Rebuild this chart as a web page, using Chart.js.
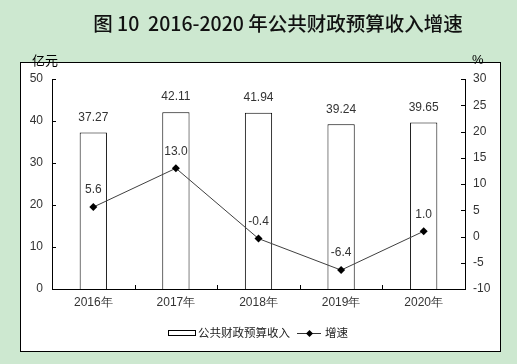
<!DOCTYPE html>
<html><head><meta charset="utf-8">
<script src="https://cdn.jsdelivr.net/npm/chart.js@4.4.0/dist/chart.umd.min.js"></script>
<style>html,body{margin:0;padding:0;background:#cde8d0;}#c{display:block;}</style>
</head><body>
<div style="width:517px;height:364px"><canvas id="c" width="517" height="364"></canvas></div>
<script>
const categories = ['2016年','2017年','2018年','2019年','2020年'];
const revenue = [37.27, 42.11, 41.94, 39.24, 39.65];
const growth = [5.6, 13.0, -0.4, -6.4, 1.0];
const revenueLabels = ['37.27','42.11','41.94','39.24','39.65'];
const growthLabels = ['5.6','13.0','-0.4','-6.4','1.0'];
const titleText = '图 10  2016-2020 年公共财政预算收入增速';
const leftUnit = '亿元';
const rightUnit = '%';
const legendBar = '公共财政预算收入';
const legendLine = '增速';

const LATIN = '"Liberation Sans", Arial, sans-serif';
const CJK = '"Noto Sans CJK SC", sans-serif';

const decor = {
  id: 'decor',
  beforeDraw(chart) {
    const ctx = chart.ctx;
    ctx.save();
    ctx.fillStyle = '#cde8d0';
    ctx.fillRect(0, 0, chart.width, chart.height);
    ctx.fillStyle = '#ffffff';
    ctx.fillRect(20.5, 62.5, 480, 289);
    ctx.strokeStyle = '#000';
    ctx.lineWidth = 1;
    ctx.strokeRect(20.5, 62.5, 480, 289);
    // title
    ctx.fillStyle = '#111';
    ctx.font = '500 19.5px ' + CJK;
    ctx.textAlign = 'center';
    ctx.textBaseline = 'middle';
    ctx.fillText(titleText, 278, 24);
    ctx.restore();
  },
  afterDraw(chart) {
    const ctx = chart.ctx;
    const x = chart.scales.x, yl = chart.scales.y, yr = chart.scales.y1;
    const area = chart.chartArea;
    ctx.save();
    ctx.strokeStyle = '#000';
    ctx.lineWidth = 1;
    ctx.beginPath();
    yl.ticks.forEach(t => {
      const py = Math.round(yl.getPixelForValue(t.value)) + 0.5;
      ctx.moveTo(area.left, py); ctx.lineTo(area.left + 4, py);
    });
    yr.ticks.forEach(t => {
      const py = Math.round(yr.getPixelForValue(t.value)) + 0.5;
      ctx.moveTo(area.right, py); ctx.lineTo(area.right - 4, py);
    });
    for (let i = 1; i < categories.length; i++) {
      const px = Math.round((x.getPixelForValue(i - 1) + x.getPixelForValue(i)) / 2) + 0.5;
      ctx.moveTo(px, area.bottom); ctx.lineTo(px, area.bottom - 4);
    }
    ctx.stroke();
    // units
    ctx.fillStyle = '#000';
    ctx.font = '13px ' + CJK;
    ctx.textBaseline = 'middle';
    ctx.textAlign = 'left';
    ctx.fillText(leftUnit, 32, 60);
    ctx.font = '13px ' + LATIN;
    ctx.fillText(rightUnit, 472, 60);
    // data labels
    ctx.fillStyle = '#333';
    ctx.font = '12px ' + LATIN;
    ctx.textAlign = 'center';
    chart.getDatasetMeta(1).data.forEach((el, i) => {
      ctx.fillText(revenueLabels[i], el.x, el.y - 15);
    });
    chart.getDatasetMeta(0).data.forEach((el, i) => {
      ctx.fillText(growthLabels[i], el.x, el.y - 17);
    });
    // legend
    ctx.strokeStyle = '#000';
    ctx.strokeRect(168.5, 330.5, 27, 5);
    ctx.fillStyle = '#222';
    ctx.font = '11.5px ' + CJK;
    ctx.textAlign = 'left';
    ctx.fillText(legendBar, 198, 333);
    ctx.strokeStyle = '#333';
    ctx.beginPath(); ctx.moveTo(297, 333.5); ctx.lineTo(321, 333.5); ctx.stroke();
    ctx.fillStyle = '#000';
    ctx.beginPath(); ctx.moveTo(309.5, 330); ctx.lineTo(313, 333.5); ctx.lineTo(309.5, 337); ctx.lineTo(306, 333.5); ctx.closePath(); ctx.fill();
    ctx.fillStyle = '#222';
    ctx.fillText(legendLine, 325, 333);
    ctx.restore();
  }
};

new Chart(document.getElementById('c'), {
  data: {
    labels: categories,
    datasets: [
      { type: 'line', label: legendLine, data: growth, yAxisID: 'y1', borderColor: '#404040', borderWidth: 1,
        pointStyle: 'rectRot', pointRadius: 4, pointBackgroundColor: '#000', pointBorderColor: '#000', pointBorderWidth: 0, tension: 0, order: 0 },
      { type: 'bar', label: legendBar, data: revenue, yAxisID: 'y', backgroundColor: '#fff', borderColor: '#000', borderWidth: 1,
        barPercentage: 0.33, categoryPercentage: 1, order: 1 }
    ]
  },
  options: {
    responsive: false, animation: false, devicePixelRatio: 1,
    layout: { padding: { top: 79, left: 0, right: 0, bottom: 0 } },
    plugins: { legend: { display: false }, tooltip: { enabled: false }, title: { display: false } },
    scales: {
      x: { type: 'category', offset: true,
        grid: { display: false, drawTicks: false, tickLength: 0 }, border: { display: true, color: '#000', width: 1 },
        ticks: { color: '#333', font: { family: LATIN, size: 12 }, padding: 6, maxRotation: 0 },
        afterFit(s) { s.height = 75; } },
      y: { type: 'linear', position: 'left', min: 0, max: 50,
        grid: { display: false, drawTicks: false, tickLength: 0 }, border: { display: true, color: '#000', width: 1 },
        ticks: { stepSize: 10, color: '#333', font: { family: LATIN, size: 12 }, padding: 9 },
        afterFit(s) { s.width = 52; } },
      y1: { type: 'linear', position: 'right', min: -10, max: 30,
        grid: { display: false, drawTicks: false, tickLength: 0 }, border: { display: true, color: '#000', width: 1 },
        ticks: { stepSize: 5, color: '#333', font: { family: LATIN, size: 12 }, padding: 8 },
        afterFit(s) { s.width = 52; } }
    }
  },
  plugins: [decor]
});
</script>
</body></html>
